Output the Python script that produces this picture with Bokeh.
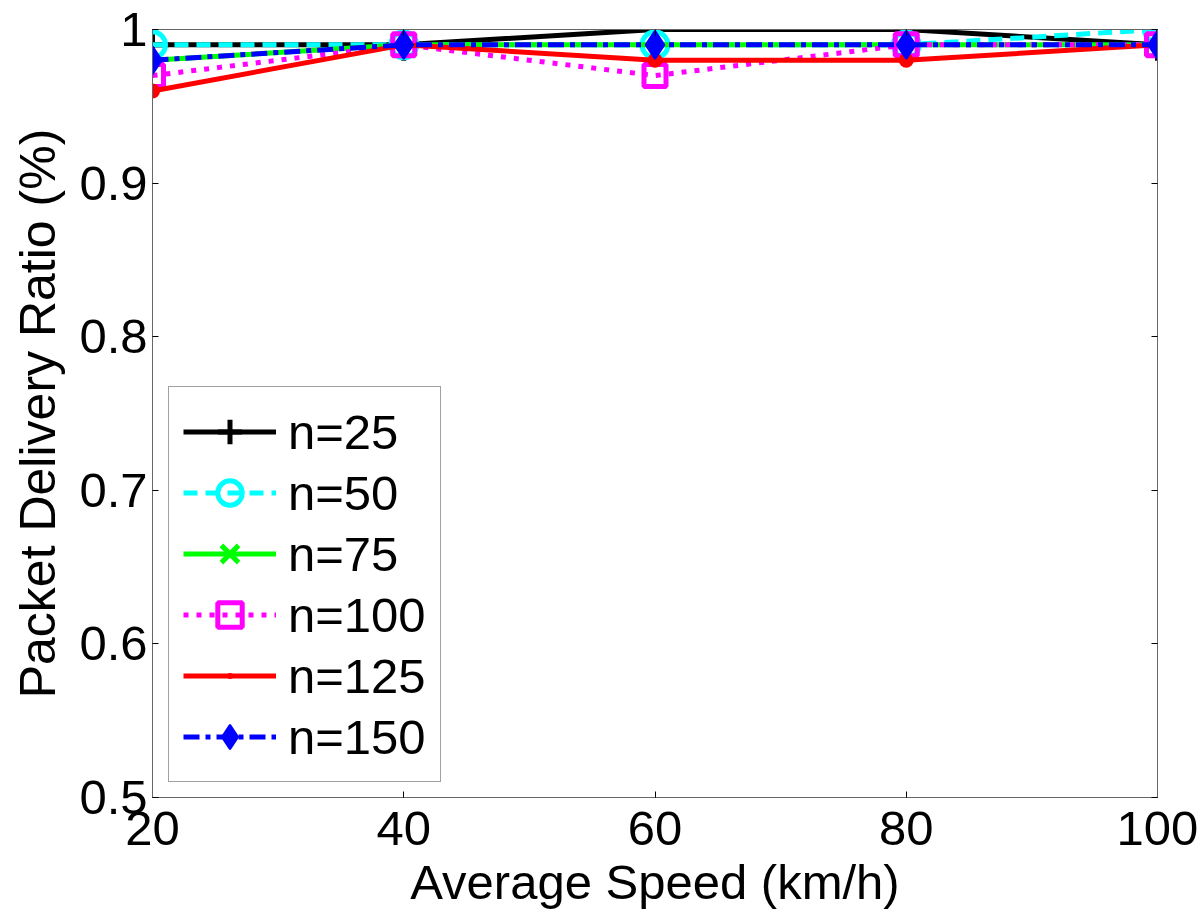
from bokeh.plotting import figure
from bokeh.models import (Range1d, FixedTicker, LinearAxis, CustomJSTickFormatter, Legend,
                          CustomLabelingPolicy)
from bokeh.embed import file_html
from bokeh.resources import INLINE

speeds = [20, 40, 60, 80, 100]
n25 = [0.99, 0.99, 1.00, 1.00, 0.99]
n50 = [0.99, 0.99, 0.99, 0.99, 1.00]
n75 = [0.98, 0.99, 0.99, 0.99, 0.99]
n100 = [0.97, 0.99, 0.97, 0.99, 0.99]
n125 = [0.96, 0.99, 0.98, 0.98, 0.99]
n150 = [0.98, 0.99, 0.99, 0.99, 0.99]
labels = ["n=25", "n=50", "n=75", "n=100", "n=125", "n=150"]
x_ticks = [20, 40, 60, 80, 100]
y_ticks = [0.5, 0.6, 0.7, 0.8, 0.9, 1.0]

FONT = "Liberation Sans"
FS = "49px"

p = figure(width=1200, height=920, output_backend="svg", toolbar_location=None,
           x_range=Range1d(20, 100), y_range=Range1d(0.5, 1.0),
           min_border_left=152, min_border_right=43, min_border_top=29, min_border_bottom=123)
p.background_fill_color = "white"
p.border_fill_color = "white"
p.outline_line_color = "#666666"
p.outline_line_width = 1
p.xgrid.visible = False
p.ygrid.visible = False

for ax in p.xaxis + p.yaxis:
    ax.axis_line_color = "#666666"
    ax.major_tick_in = 6
    ax.major_tick_out = 0
    ax.minor_tick_line_color = None
    ax.major_tick_line_color = "black"
    ax.major_label_text_font = FONT
    ax.major_label_text_font_size = FS
    ax.major_label_text_color = "black"
    ax.axis_label_text_font = FONT
    ax.axis_label_text_font_size = FS
    ax.axis_label_text_font_style = "normal"
    ax.axis_label_text_color = "black"

p.yaxis.axis_label_text_font_size = "50px"
p.xaxis.ticker = FixedTicker(ticks=x_ticks)
p.yaxis.ticker = FixedTicker(ticks=y_ticks)
p.yaxis.formatter = CustomJSTickFormatter(code="return String(Math.round(tick*10)/10)")
p.xaxis.axis_label = "Average Speed (km/h)"
p.yaxis.axis_label = "Packet Delivery Ratio (%)"
p.xaxis.major_label_standoff = 14
p.yaxis.major_label_standoff = 5
p.xaxis.axis_label_standoff = 7
p.yaxis.axis_label_standoff = 10

no_labels = CustomLabelingPolicy(code="return new Set()")
# mirrored ticks on right and top
r_ax = LinearAxis(ticker=FixedTicker(ticks=y_ticks), major_tick_in=6, major_tick_out=0,
                  minor_tick_line_color=None, major_label_policy=no_labels,
                  axis_line_color="#666666", major_label_standoff=0)
t_ax = LinearAxis(ticker=FixedTicker(ticks=x_ticks), major_tick_in=6, major_tick_out=0,
                  minor_tick_line_color=None, major_label_policy=no_labels,
                  axis_line_color="#666666", major_label_standoff=0)
p.add_layout(r_ax, "right")
p.add_layout(t_ax, "above")

series = [
    (n25, "black", "solid", "cross", 32, None, 5),
    (n50, "cyan", "14 8", "circle", 26, None, 5),
    (n75, "lime", "solid", "x", 14, None, 5),
    (n100, "magenta", "5 8", "square", 22, None, 5),
    (n125, "red", "solid", "dot", 60, "red", 5),
    (n150, "blue", "16 6 5 6", "diamond", 28, "blue", 2),
]

items = []
for (ys, col, dash, mk, sz, fill, mlw), lab in zip(series, labels):
    l = p.line(speeds, ys, line_color=col, line_width=5, line_dash=dash)
    s = p.scatter(speeds, ys, marker=mk, size=sz, line_color=col, line_width=mlw,
                  fill_color=fill if fill else None)
    items.append((lab, [l, s]))

legend = Legend(items=items, location=(16, 15))
legend.label_text_font = FONT
legend.label_text_font_size = FS
legend.label_text_color = "black"
legend.glyph_width = 93
legend.glyph_height = 61
legend.label_height = 61
legend.spacing = 0
legend.padding = 14
legend.margin = 0
legend.label_standoff = 12
legend.border_line_color = "#444444"
legend.border_line_width = 1
legend.background_fill_alpha = 1
p.add_layout(legend, "center")

open("out.html", "w").write(file_html(p, INLINE))
